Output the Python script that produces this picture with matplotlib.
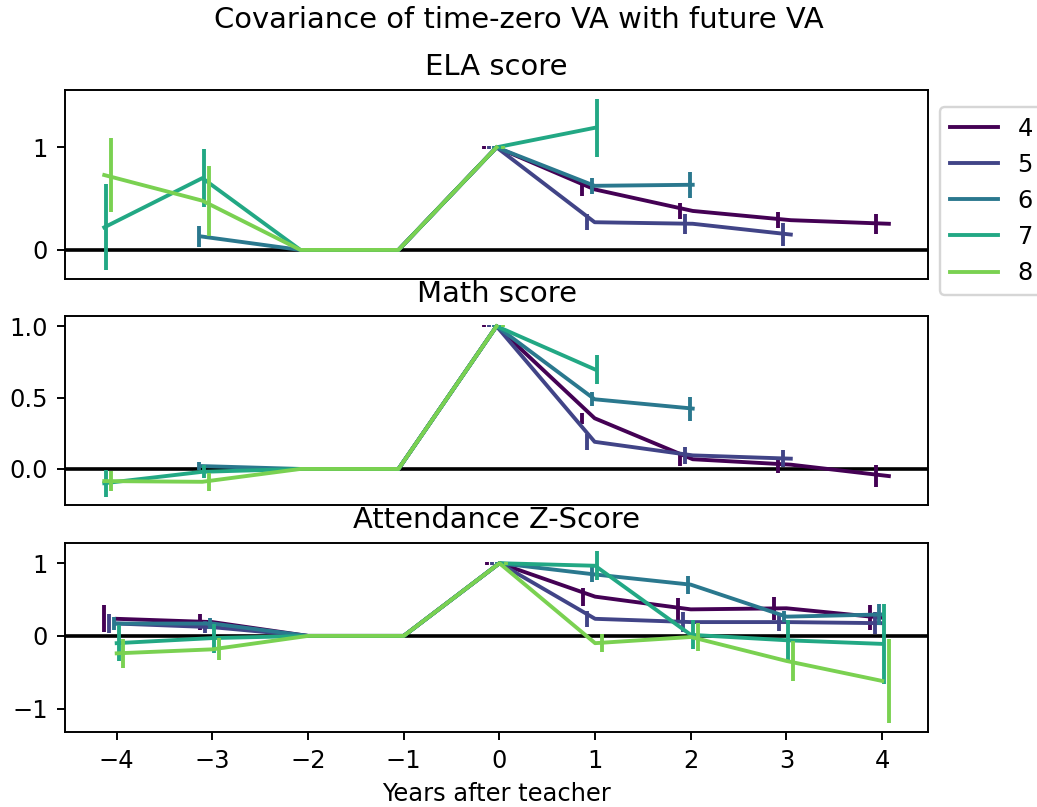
import numpy as np
import matplotlib
matplotlib.use("Agg")
import matplotlib.pyplot as plt

# Grades of the teacher and their plotting colours
grades = [4, 5, 6, 7, 8]
colors = plt.cm.viridis(np.linspace(0, 0.8, len(grades)))
# horizontal dodge of the error bars for each grade
dodge = [-0.13, -0.08, -0.03, 0.02, 0.07]

# ---- ELA score ----
ela_years = {
    4: [-2, -1, 0, 1, 2, 3, 4],
    5: [-2, -1, 0, 1, 2, 3],
    6: [-3, -2, -1, 0, 1, 2],
    7: [-4, -3, -2, -1, 0, 1],
    8: [-4, -3, -2, -1, 0],
}
ela_cov = {
    4: [0, 0, 1, 0.59, 0.38, 0.29, 0.255],
    5: [0, 0, 1, 0.27, 0.255, 0.15],
    6: [0.13, 0, 0, 1, 0.625, 0.635],
    7: [0.22, 0.70, 0, 0, 1, 1.19],
    8: [0.73, 0.48, 0, 0, 1],
}
ela_se = {
    4: [0, 0, 0.012, 0.065, 0.08, 0.08, 0.1],
    5: [0, 0, 0.012, 0.08, 0.1, 0.11],
    6: [0.1, 0, 0, 0.012, 0.078, 0.125],
    7: [0.42, 0.28, 0, 0, 0.012, 0.285],
    8: [0.36, 0.34, 0, 0, 0.012],
}

# ---- Math score ----
math_years = {
    4: [-2, -1, 0, 1, 2, 3, 4],
    5: [-2, -1, 0, 1, 2, 3],
    6: [-3, -2, -1, 0, 1, 2],
    7: [-4, -3, -2, -1, 0, 1],
    8: [-4, -3, -2, -1, 0],
}
math_cov = {
    4: [0, 0, 1, 0.355, 0.068, 0.03, -0.05],
    5: [0, 0, 1, 0.19, 0.095, 0.072],
    6: [0.02, 0, 0, 1, 0.488, 0.423],
    7: [-0.10, -0.02, 0, 0, 1, 0.698],
    8: [-0.085, -0.09, 0, 0, 1],
}
math_se = {
    4: [0, 0, 0.009, 0.04, 0.047, 0.055, 0.075],
    5: [0, 0, 0.009, 0.058, 0.06, 0.058],
    6: [0.03, 0, 0, 0.009, 0.05, 0.084],
    7: [0.095, 0.045, 0, 0, 0.009, 0.1],
    8: [0.07, 0.065, 0, 0, 0.009],
}

# ---- Attendance Z-score ----
att_years = {g: [-4, -3, -2, -1, 0, 1, 2, 3, 4] for g in grades}
att_cov = {
    4: [0.235, 0.19, 0, 0, 1, 0.54, 0.365, 0.38, 0.25],
    5: [0.17, 0.12, 0, 0, 1, 0.235, 0.19, 0.19, 0.175],
    6: [0.17, 0.17, 0, 0, 1, 0.845, 0.705, 0.265, 0.295],
    7: [-0.10, -0.03, 0, 0, 1, 0.965, 0.015, -0.06, -0.11],
    8: [-0.24, -0.185, 0, 0, 1, -0.10, -0.015, -0.345, -0.62],
}
att_se = {
    4: [0.185, 0.115, 0, 0, 0.02, 0.125, 0.15, 0.155, 0.17],
    5: [0.125, 0.085, 0, 0, 0.02, 0.11, 0.135, 0.12, 0.15],
    6: [0.09, 0.07, 0, 0, 0.02, 0.1, 0.125, 0.08, 0.15],
    7: [0.25, 0.2, 0, 0, 0.02, 0.2, 0.2, 0.28, 0.55],
    8: [0.2, 0.15, 0, 0, 0.02, 0.12, 0.19, 0.28, 0.58],
}

panels = [
    ("ELA score", ela_years, ela_cov, ela_se, [0, 1]),
    ("Math score", math_years, math_cov, math_se, [0.0, 0.5, 1.0]),
    ("Attendance Z-Score", att_years, att_cov, att_se, [-1, 0, 1]),
]
xticks = [-4, -3, -2, -1, 0, 1, 2, 3, 4]

DPI = 174
fig, axes = plt.subplots(3, 1, figsize=(1037 / DPI, 807 / DPI), dpi=DPI)
fig.subplots_adjust(left=0.0627, right=0.895, bottom=0.0933, top=0.8885,
                    hspace=0.197)

for ax, (title, years, cov, se, yticks) in zip(axes, panels):
    ax.axhline(0, color="black", lw=1.5)
    for i, g in enumerate(grades):
        x = np.asarray(years[g], dtype=float)
        y = np.asarray(cov[g], dtype=float)
        e = np.asarray(se[g], dtype=float)
        ax.plot(x, y, color=colors[i], label=str(g), lw=1.6)
        ax.errorbar(x + dodge[i], y, yerr=e, fmt="none", ecolor=colors[i],
                    elinewidth=1.6)
    ax.set_title(title)
    ax.set_yticks(yticks)

axes[0].set_xticks([])
axes[1].set_xticks([])
axes[2].set_xticks(xticks)
axes[2].set_xlabel("Years after teacher")
axes[1].yaxis.set_major_formatter(matplotlib.ticker.FormatStrFormatter("%.1f"))

axes[0].legend(loc="upper left", bbox_to_anchor=(1.014, 0.91),
               borderaxespad=0)
fig.suptitle("Covariance of time-zero VA with future VA", y=0.993)

fig.savefig("out.png", dpi=DPI)
